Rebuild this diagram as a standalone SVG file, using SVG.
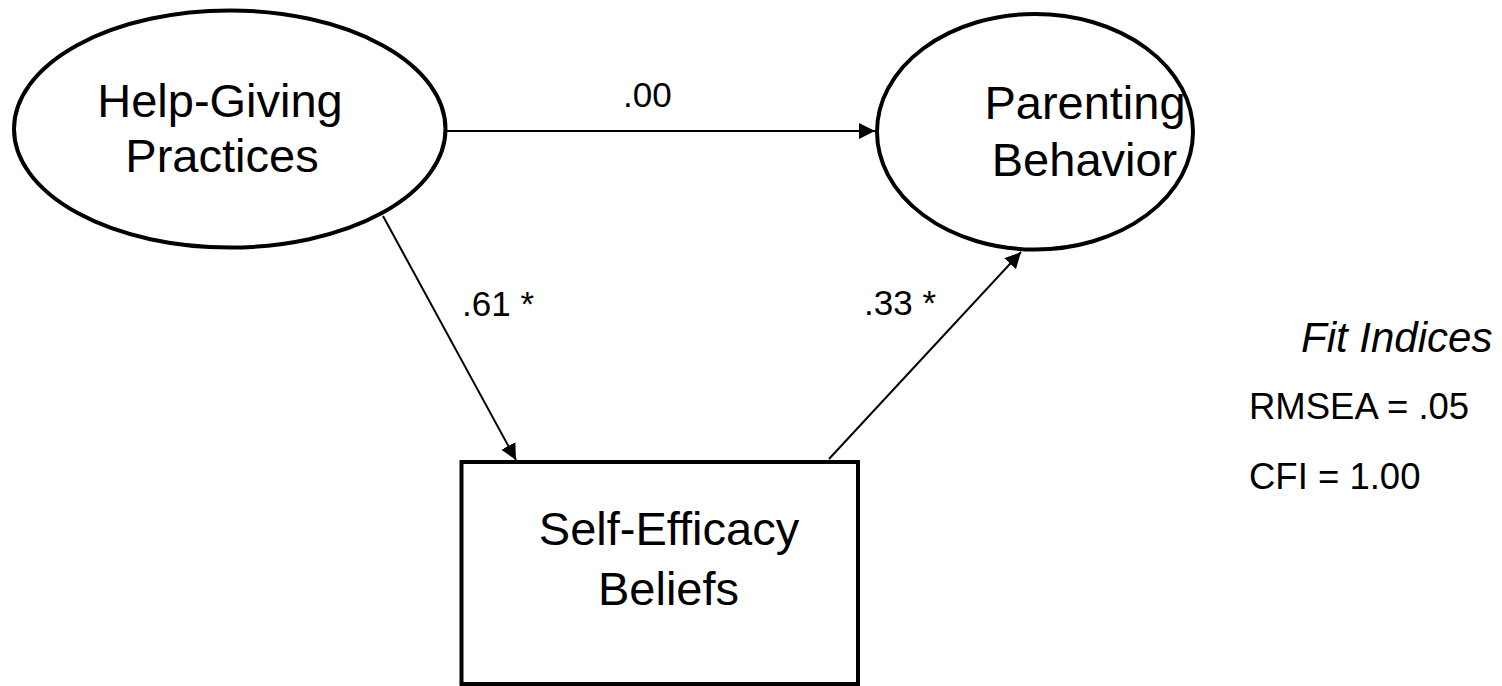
<svg xmlns="http://www.w3.org/2000/svg" width="1502" height="686" viewBox="0 0 1502 686">
  <defs>
    <marker id="arrow" viewBox="0 0 16 16" refX="16" refY="8" markerWidth="16" markerHeight="16" markerUnits="userSpaceOnUse" orient="auto">
      <path d="M0,0 L16,8 L0,16 Z" fill="#000"/>
    </marker>
    <style>
      .shape { fill: #fff; stroke: #000; stroke-width: 4; }
      .edge { stroke: #000; stroke-width: 2; fill: none; marker-end: url(#arrow); }
      .node-label { font-family: "Liberation Sans", Arial, sans-serif; font-size: 47px; fill: #000; text-anchor: middle; }
      .coef { font-family: "Liberation Sans", Arial, sans-serif; font-size: 35px; fill: #000; }
      .fit { font-family: "Liberation Sans", Arial, sans-serif; font-size: 36.5px; fill: #000; }
      .fit-title { font-family: "Liberation Sans", Arial, sans-serif; font-size: 42px; font-style: italic; fill: #000; }
    </style>
  </defs>
  <rect width="1502" height="686" fill="#fff"/>

  <!-- Paths between the constructs -->
  <g id="connectors">
    <line class="edge" x1="446" y1="131" x2="875" y2="131"/>
    <line class="edge" x1="383" y1="216" x2="516" y2="460"/>
    <line class="edge" x1="829" y1="459" x2="1021" y2="252"/>
  </g>

  <g id="node-help-giving">
    <ellipse class="shape" cx="229.75" cy="129" rx="215.75" ry="118.5"/>
    <text class="node-label" x="220" y="117">Help-Giving</text>
    <text class="node-label" x="222" y="172">Practices</text>
  </g>

  <g id="node-parenting">
    <ellipse class="shape" cx="1035" cy="131.75" rx="158" ry="117.75"/>
    <text class="node-label" x="1085" y="119">Parenting</text>
    <text class="node-label" x="1084.5" y="176">Behavior</text>
  </g>

  <g id="node-self-efficacy">
    <rect class="shape" x="461.5" y="462" width="396.5" height="222"/>
    <text class="node-label" x="669" y="545">Self-Efficacy</text>
    <text class="node-label" x="668.5" y="605">Beliefs</text>
  </g>

  <!-- Path coefficients -->
  <g id="coefficients">
    <text class="coef" x="623" y="107">.00</text>
    <text class="coef" x="462" y="316">.61 *</text>
    <text class="coef" x="864" y="315">.33 *</text>
  </g>

  <!-- Model fit -->
  <g id="fit-indices">
    <text class="fit-title" x="1301" y="352">Fit Indices</text>
    <text class="fit" x="1249" y="419">RMSEA = .05</text>
    <text class="fit" x="1249" y="489">CFI = 1.00</text>
  </g>
</svg>
